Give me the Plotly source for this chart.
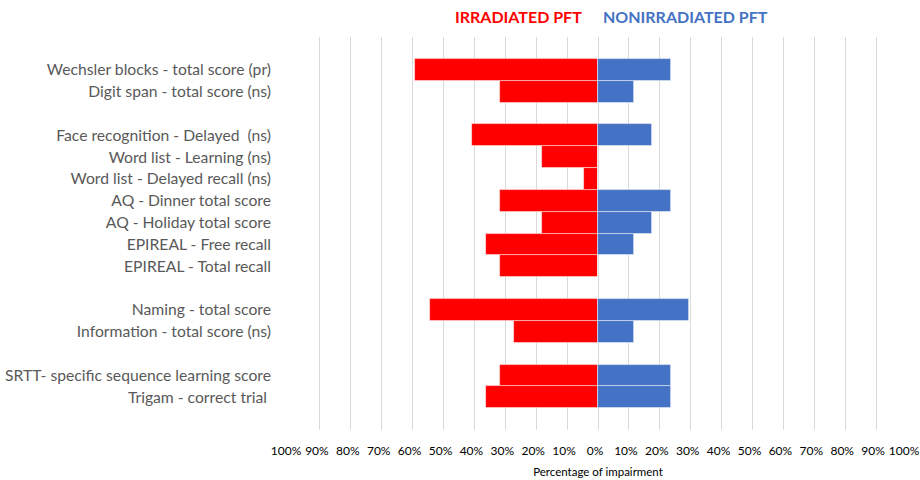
import plotly.graph_objects as go

categories = [
    "Wechsler blocks - total score (pr)",
    "Digit span - total score (ns)",
    "",
    "Face recognition - Delayed  (ns)",
    "Word list - Learning (ns)",
    "Word list - Delayed recall (ns)",
    "AQ - Dinner total score",
    "AQ - Holiday total score",
    "EPIREAL - Free recall",
    "EPIREAL - Total recall",
    "",
    "Naming - total score",
    "Information - total score (ns)",
    "",
    "SRTT- specific sequence learning score",
    "Trigam - correct trial ",
]
irradiated = [59.1, 31.8, None, 40.9, 18.2, 4.5, 31.8, 18.2, 36.4, 31.8, None, 54.5, 27.3, None, 31.8, 36.4]
nonirradiated = [23.5, 11.8, None, 17.6, 0, 0, 23.5, 17.6, 11.8, 0, None, 29.4, 11.8, None, 23.5, 23.5]
tick_values = list(range(-100, 101, 10))
tick_labels = [f"{abs(v)}%" for v in tick_values]

ypos = list(range(len(categories)))
font = "Lato, Calibri, Carlito, sans-serif"

ML, MR, MT, MB = 289, 13, 37, 50
W, H = 920, 480

fig = go.Figure()
fig.add_trace(go.Bar(
    y=ypos, x=[-v if v is not None else None for v in irradiated], orientation="h",
    marker=dict(color="#FF0000", line=dict(color="rgba(255,255,255,0.6)", width=0.8)),
    name="IRRADIATED PFT", hoverinfo="skip",
))
fig.add_trace(go.Bar(
    y=ypos, x=nonirradiated, orientation="h",
    marker=dict(color="#4472C4", line=dict(color="rgba(255,255,255,0.6)", width=0.8)),
    name="NONIRRADIATED PFT", hoverinfo="skip",
))

plot_w = W - ML - MR
plot_h = H - MT - MB
def px_x(x):
    return (x - ML) / plot_w
def px_y(y):
    return (H - MB - y) / plot_h

fig.update_layout(
    width=W, height=H,
    margin=dict(l=ML, r=MR, t=MT, b=MB, autoexpand=False),
    barmode="overlay", bargap=0,
    showlegend=False,
    plot_bgcolor="white", paper_bgcolor="white",
    font=dict(family=font, color="#595959"),
    xaxis=dict(
        range=[-100, 100], tickvals=tick_values, ticktext=tick_labels,
        showgrid=True, gridcolor="#D9D9D9", gridwidth=1,
        zeroline=True, zerolinecolor="#D9D9D9", zerolinewidth=1,
        showline=False, ticks="", tickfont=dict(size=12, color="#000000"),
        tickangle=0, ticklabelshift=-3,
        ticklabelstandoff=12, automargin=False, ticklabeloverflow="allow",
        title=dict(text="Percentage of impairment", font=dict(size=11.5, color="#000000"), standoff=10),
    ),
    yaxis=dict(
        range=[len(categories) - 0.5 + 1, -1.5],
        tickvals=ypos, ticktext=categories,
        showgrid=False, zeroline=False, showline=False, ticks="",
        tickfont=dict(size=15.7, color="#595959"),
        ticklabelstandoff=17, automargin=False,
    ),
    annotations=[
        dict(text="<b>IRRADIATED PFT</b>", x=px_x(518), y=px_y(17), xref="paper", yref="paper",
             xanchor="center", yanchor="middle",
             showarrow=False, font=dict(size=16, color="#FF0000", family=font)),
        dict(text="<b>NONIRRADIATED PFT</b>", x=px_x(685), y=px_y(17), xref="paper", yref="paper",
             xanchor="center", yanchor="middle",
             showarrow=False, font=dict(size=16, color="#4472C4", family=font)),
    ],
)

fig.write_html("out.html", config={"displayModeBar": False},
               post_script="document.body.style.margin='0';")
